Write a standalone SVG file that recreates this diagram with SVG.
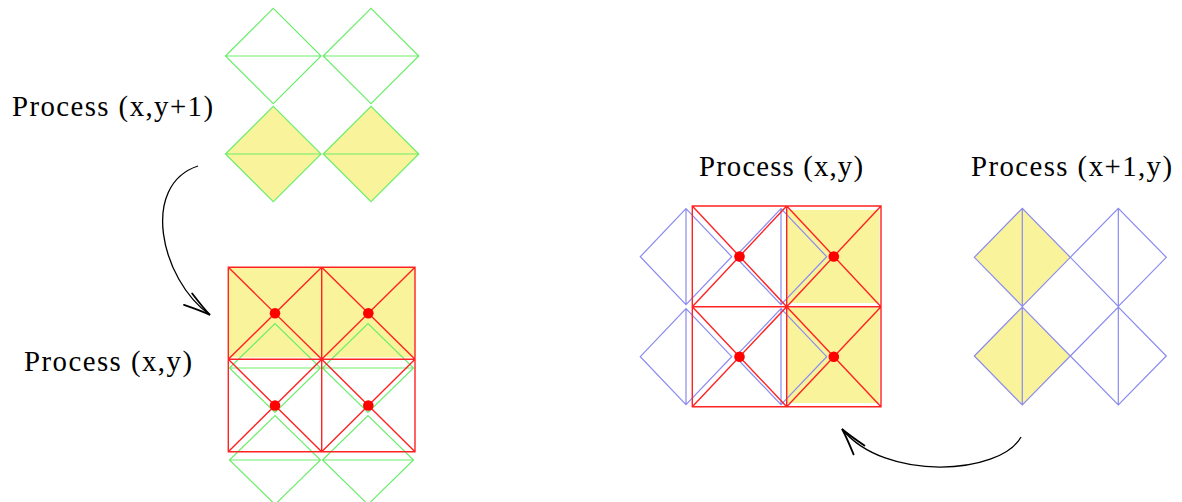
<svg xmlns="http://www.w3.org/2000/svg" width="1182" height="502" viewBox="0 0 1182 502">
<style>
.lbl{font-family:"Liberation Serif","Times New Roman",serif;font-size:28.8px;fill:#000}
.g{fill:none;stroke:#6ded6d;stroke-width:1.2}
.b{fill:none;stroke:#8a8af0;stroke-width:1.2}
.r{fill:none;stroke:#ff2222;stroke-width:1.4}
.y{fill:#f9f39b;stroke:none}
.dot{fill:#ff0000}
.arr{fill:none;stroke:#000;stroke-width:1.3}
</style>
<defs>
<marker id="ah" markerUnits="userSpaceOnUse" markerWidth="40" markerHeight="30" viewBox="-30 -15 40 30" refX="0" refY="0" orient="auto">
<path d="M-27,-7 C-17,-4 -6,-1 0,0 C-6,1 -17,4 -27,7" fill="none" stroke="#000" stroke-width="1.8" stroke-linecap="round"/>
</marker>
</defs>
<rect width="1182" height="502" fill="#fff"/>

<g id="label-xy1"><text class="lbl" x="12" y="116" textLength="201" lengthAdjust="spacing">Process (x,y+1)</text></g>
<g id="label-xy-left"><text class="lbl" x="24" y="371" textLength="168" lengthAdjust="spacing">Process (x,y)</text></g>
<g id="label-xy-right"><text class="lbl" x="699" y="176" textLength="164" lengthAdjust="spacing">Process (x,y)</text></g>
<g id="label-x1y"><text class="lbl" x="971" y="176" textLength="201" lengthAdjust="spacing">Process (x+1,y)</text></g>

<g id="block-xy1">
<path class="y" d="M225.5,154 L273.3,106.4 L321.1,154 L273.3,201.6 Z M323.2,154 L371,106.4 L418.8,154 L371,201.6 Z"/>
<path class="g" d="M225.5,56 L273.3,8.4 L321.1,56 L273.3,103.6 Z M225.5,56 H321.1 M323.2,56 L371,8.4 L418.8,56 L371,103.6 Z M323.2,56 H418.8 M225.5,154 L273.3,106.4 L321.1,154 L273.3,201.6 Z M225.5,154 H321.1 M323.2,154 L371,106.4 L418.8,154 L371,201.6 Z M323.2,154 H418.8"/>
</g>

<g id="block-xy-left">
<rect class="y" x="228.3" y="267.3" width="186.7" height="90"/>
<path class="g" d="M229.5,368 L275,323.5 L320.5,368 L275,412.5 Z M229.5,368 H320.5 M322.5,368 L368,323.5 L413.5,368 L368,412.5 Z M322.5,368 H413.5 M229.5,460 L275,415.5 L320.5,460 L275,504.5 Z M229.5,460 H320.5 M322.5,460 L368,415.5 L413.5,460 L368,504.5 Z M322.5,460 H413.5"/>
<path class="r" d="M228.3,267.3 H415 V451.7 H228.3 Z M321.7,267.3 V451.7 M228.3,359.3 H415 M228.3,267.3 L321.7,359.3 M321.7,267.3 L228.3,359.3 M321.7,267.3 L415,359.3 M415,267.3 L321.7,359.3 M228.3,359.3 L321.7,451.7 M321.7,359.3 L228.3,451.7 M321.7,359.3 L415,451.7 M415,359.3 L321.7,451.7"/>
<circle class="dot" cx="275" cy="313.3" r="5.3"/>
<circle class="dot" cx="368.3" cy="313.3" r="5.3"/>
<circle class="dot" cx="275" cy="405.5" r="5.3"/>
<circle class="dot" cx="368.3" cy="405.5" r="5.3"/>
</g>

<g id="block-xy-right">
<rect class="y" x="787" y="210" width="92.5" height="93"/>
<rect class="y" x="787" y="307.5" width="92.5" height="95.5"/>
<path class="b" d="M640.3,256.7 L686,208.7 L731.7,256.7 L686,304.7 Z M686,208.7 V304.7 M735.3,256.7 L781,208.7 L826.7,256.7 L781,304.7 Z M781,208.7 V304.7 M640.3,356.7 L686,308.7 L731.7,356.7 L686,404.7 Z M686,308.7 V404.7 M735.3,356.7 L781,308.7 L826.7,356.7 L781,404.7 Z M781,308.7 V404.7"/>
<path class="r" d="M692.3,206 H881 V406.7 H692.3 Z M786.7,206 V406.7 M692.3,306.7 H881 M692.3,206 L786.7,306.7 M786.7,206 L692.3,306.7 M786.7,206 L881,306.7 M881,206 L786.7,306.7 M692.3,306.7 L786.7,406.7 M786.7,306.7 L692.3,406.7 M786.7,306.7 L881,406.7 M881,306.7 L786.7,406.7"/>
<circle class="dot" cx="739.5" cy="256.5" r="5.3"/>
<circle class="dot" cx="833.8" cy="256.5" r="5.3"/>
<circle class="dot" cx="739.5" cy="356.7" r="5.3"/>
<circle class="dot" cx="833.8" cy="356.7" r="5.3"/>
</g>

<g id="block-x1y">
<path class="y" d="M974.3,257.3 L1022.3,208.3 L1070.3,257.3 L1022.3,306.3 Z M974.3,356 L1022.3,307 L1070.3,356 L1022.3,405 Z"/>
<path class="b" d="M974.3,257.3 L1022.3,208.3 L1070.3,257.3 L1022.3,306.3 Z M1022.3,208.3 V306.3 M1070.3,257.3 L1118.3,208.3 L1166.3,257.3 L1118.3,306.3 Z M1118.3,208.3 V306.3 M974.3,356 L1022.3,307 L1070.3,356 L1022.3,405 Z M1022.3,307 V405 M1070.3,356 L1118.3,307 L1166.3,356 L1118.3,405 Z M1118.3,307 V405"/>
</g>

<g id="connectors">
<path class="arr" d="M198,166 C140,185 160,279 210,315" marker-end="url(#ah)"/>
<path class="arr" d="M1021,437 C1000,475 885,482 842,429" marker-end="url(#ah)"/>
</g>
</svg>
